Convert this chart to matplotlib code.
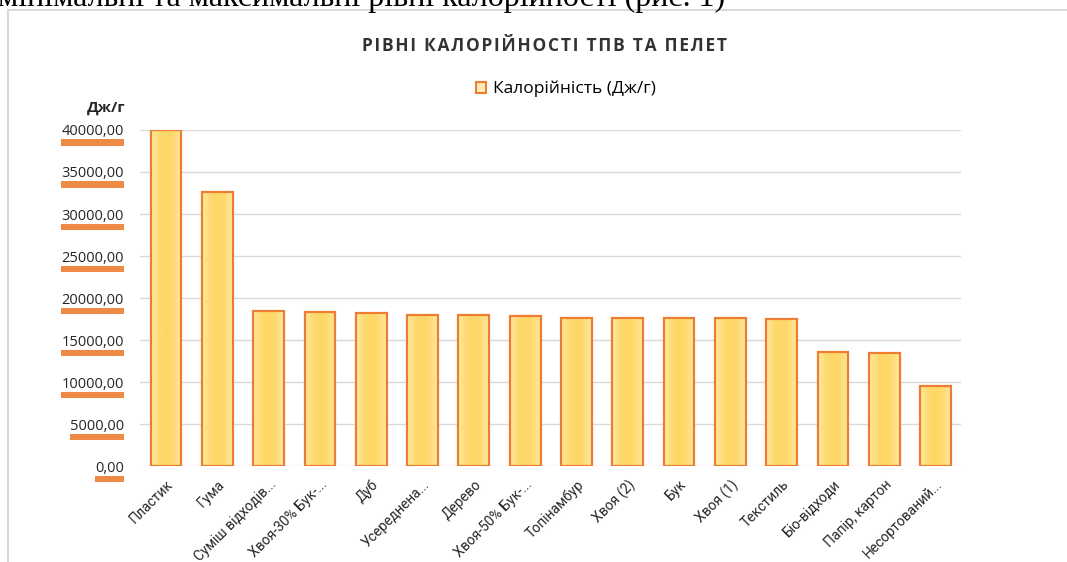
import matplotlib
matplotlib.use("Agg")
import matplotlib.pyplot as plt
import matplotlib.patheffects as pe
from matplotlib.patches import Patch
from matplotlib.lines import Line2D
import numpy as np

plt.rcParams['font.family'] = ['Open Sans', 'DejaVu Sans']

categories = ["Пластик", "Гума", "Суміш відходів...", "Хвоя-30% Бук-...", "Дуб",
              "Усереднена...", "Дерево", "Хвоя-50% Бук-...", "Топінамбур", "Хвоя (2)",
              "Бук", "Хвоя (1)", "Текстиль", "Біо-відходи", "Папір, картон",
              "Несортований..."]
calorific = [40000, 32600, 18410, 18340, 18220, 17940, 17930, 17860, 17630, 17620,
             17620, 17620, 17500, 13570, 13400, 9510]
y_ticks = [0, 5000, 10000, 15000, 20000, 25000, 30000, 35000, 40000]

W, H = 1067, 562
fig = plt.figure(figsize=(W / 100, H / 100), dpi=100)
ax = fig.add_axes([140.4 / W, (H - 466) / H, 820.8 / W, 336 / H])

x = np.arange(len(categories))
bars = ax.bar(x, calorific, width=0.6, facecolor='none', edgecolor='#ED7D31',
              linewidth=1.6, zorder=3)

# soft horizontal gradient inside each bar
grad = np.abs(np.linspace(-1, 1, 64)) ** 2
cmap = matplotlib.colors.LinearSegmentedColormap.from_list("g", ["#FED766", "#FFE9A6"])
for b in bars:
    im = ax.imshow(grad[np.newaxis, :], cmap=cmap, aspect='auto', zorder=2,
                   extent=[b.get_x(), b.get_x() + b.get_width(), 0, b.get_height()])
    im.set_clip_path(b)

ax.set_xlim(-0.5, len(categories) - 0.5)
ax.set_ylim(0, 40000)
ax.set_yticks(y_ticks)
ax.set_yticklabels([f"{v:.2f}".replace('.', ',') for v in y_ticks],
                   fontsize=10.5, color='#262626')
ax.set_xticks(x)
ax.set_xticklabels(categories, rotation=45, ha='right', rotation_mode='anchor',
                   fontsize=10, color='#262626', family=['Roboto', 'DejaVu Sans'])
ax.tick_params(axis='both', length=0)
ax.tick_params(axis='y', pad=12)
ax.tick_params(axis='x', pad=8)
ax.yaxis.grid(True, color='#D9D9D9', linewidth=1)
ax.set_axisbelow(True)
for s in ax.spines.values():
    s.set_visible(False)

for t in ax.get_yticklabels():
    t.set_bbox(dict(facecolor='white', edgecolor='none', pad=0.0))
    t.get_bbox_patch().set_path_effects([
        pe.SimplePatchShadow(offset=(0, -5), shadow_rgbFace='#ED7D31', alpha=0.9),
        pe.Normal()])

fig.text(545 / W, 1 - 46 / H, "\u200a".join("РІВНІ КАЛОРІЙНОСТІ ТПВ ТА ПЕЛЕТ"),
         ha='center', va='center', fontsize=12.5, fontweight='bold', color='#333333')
fig.text(106 / W, 1 - 108 / H, "Дж/г", ha='center', va='center', fontsize=11,
         fontweight='bold', color='#262626')

handle = Patch(facecolor='#FFEDB8', edgecolor='#ED7D31', linewidth=1.5)
fig.legend([handle], ["Калорійність (Дж/г)"], loc='center', frameon=False,
           bbox_to_anchor=(566 / W, 1 - 89 / H), fontsize=12.5, handlelength=0.6,
           handleheight=0.6, handletextpad=0.4)

# document text cut at the top and chart frame
fig.text(725 / W, 1 - 6 / H, "мінімальні та максимальні рівні калорійності (рис. 1)",
         ha='right', va='baseline', fontsize=23, family='Liberation Serif', color='black')
fig.add_artist(Line2D([8 / W, 1.0], [1 - 10 / H, 1 - 10 / H], color='#D9D9D9', lw=1.5,
                      transform=fig.transFigure))
fig.add_artist(Line2D([8 / W, 8 / W], [0, 1 - 10 / H], color='#D9D9D9', lw=1.5,
                      transform=fig.transFigure))

fig.savefig("out.png", dpi=100)
